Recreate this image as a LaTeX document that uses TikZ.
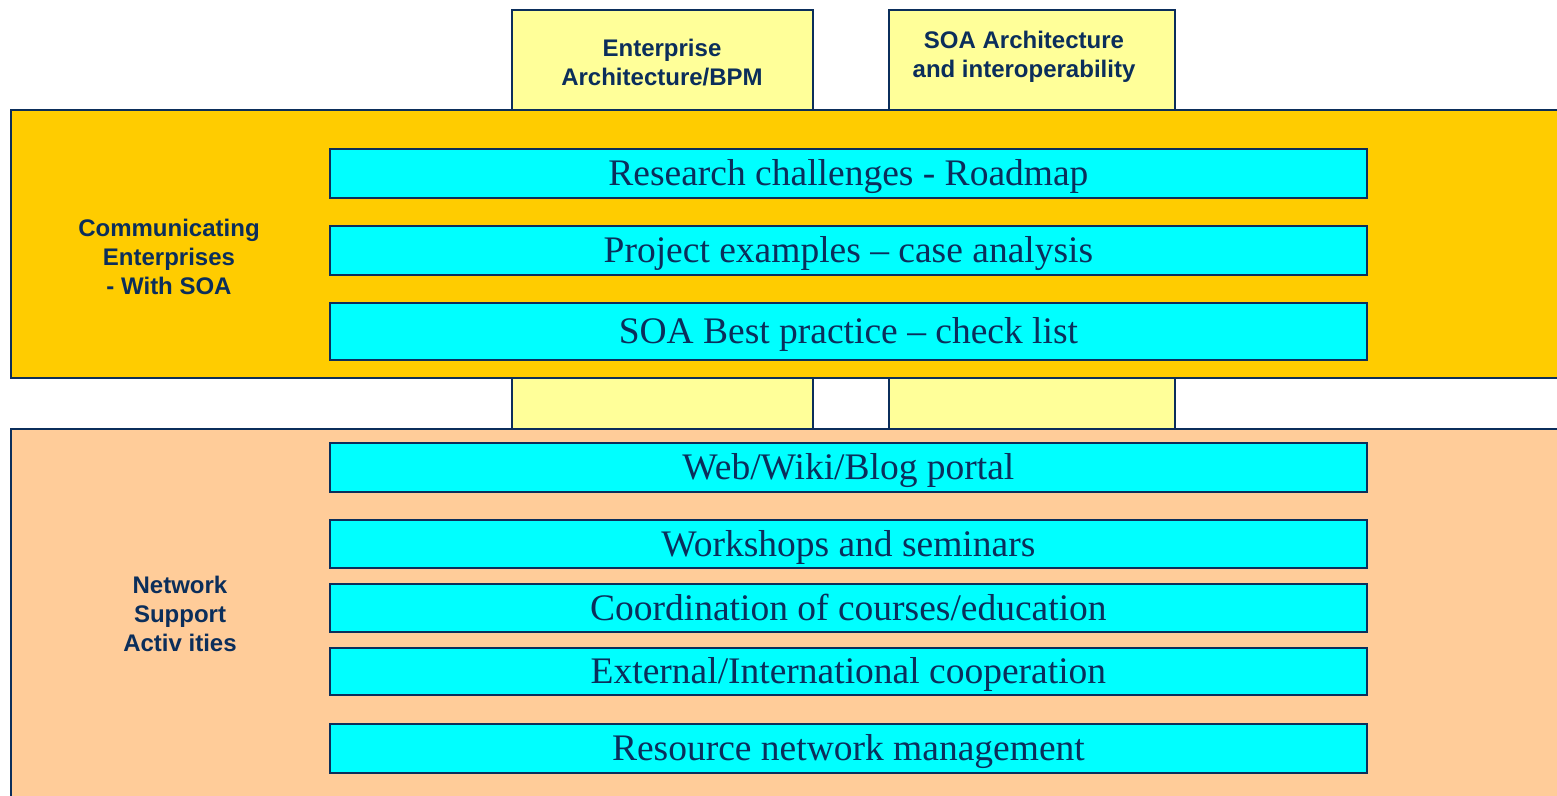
\documentclass[tikz,border=0pt]{standalone}
\usepackage{fontspec}
\setmainfont{Liberation Serif}
\newfontfamily\labelfont{Liberation Sans}
\definecolor{navy}{RGB}{11,46,91}
\definecolor{orangefill}{RGB}{255,204,0}
\definecolor{peachfill}{RGB}{255,204,153}
\definecolor{yellowfill}{RGB}{255,255,153}
\definecolor{cyanfill}{RGB}{0,255,255}
\tikzset{
  panel/.style={draw=navy, line width=1.5pt},
  itembox/.style={draw=navy, line width=1.8pt, fill=cyanfill, inner sep=0pt,
    text height=25pt, text depth=0pt,
    minimum width=1037pt, anchor=north west, font=\fontsize{37.5}{40}\selectfont, text=navy},
  sidelabel/.style={align=center, font=\labelfont\bfseries\fontsize{24}{29}\selectfont, text=navy},
}
\begin{document}
\begin{tikzpicture}[x=1pt,y=-1pt]
\useasboundingbox (0,0) rectangle (1557,795);
\clip (0,0) rectangle (1557,795);
% yellow columns
\draw[panel, fill=yellowfill] (512,10) rectangle (813,429);
\draw[panel, fill=yellowfill] (889,10) rectangle (1175,429);
% main bands
\draw[panel, fill=orangefill] (11,110) rectangle (1600,378);
\draw[panel, fill=peachfill] (11,429) rectangle (1600,840);
% column labels
\node[sidelabel] (ea) at (662,63) {Enterprise\\Architecture/BPM};
\node[sidelabel] (soa) at (1024,57) {SOA Architecture\\and interoperability};
% band labels
\node[sidelabel] (ce) at (169,257) {Communicating\\Enterprises\\- With SOA};
\node[sidelabel] (ns) at (180,614) {Network\\Support\\Activ ities};
% items
\node[itembox, minimum height=49pt] (r1) at (329,148) {Research challenges - Roadmap};
\node[itembox, minimum height=49pt] (r2) at (329,225) {Project examples – case analysis};
\node[itembox, minimum height=57pt] (r3) at (329,302) {SOA Best practice – check list};
\node[itembox, minimum height=49pt] (n1) at (329,442) {Web/Wiki/Blog portal};
\node[itembox, minimum height=48pt] (n2) at (329,519) {Workshops and seminars};
\node[itembox, minimum height=48pt] (n3) at (329,583) {Coordination of courses/education};
\node[itembox, minimum height=47pt] (n4) at (329,647) {External/International cooperation};
\node[itembox, minimum height=49pt] (n5) at (329,723) {Resource network management};
\end{tikzpicture}
\end{document}
